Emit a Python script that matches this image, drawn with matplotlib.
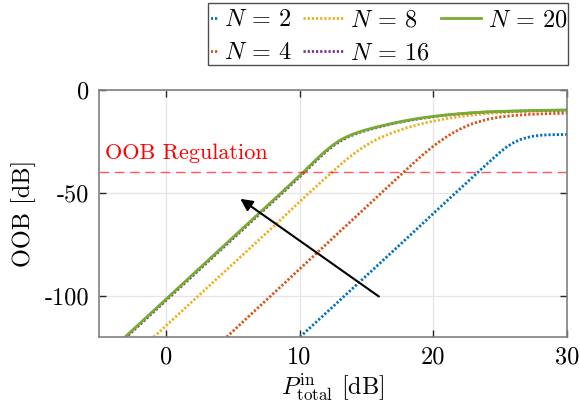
import matplotlib
matplotlib.use("Agg")
from matplotlib import pyplot as plt
from matplotlib.patches import Rectangle
from matplotlib.transforms import Bbox, TransformedBbox

plt.rcParams['font.family'] = ['cmr10', 'DejaVu Serif']
plt.rcParams['mathtext.fontset'] = 'cm'
plt.rcParams['axes.unicode_minus'] = False
plt.rcParams['axes.formatter.use_mathtext'] = True

# OOB emission [dB] against total input power [dB], one series per N
x_n2 = [10.03, 12, 14, 16, 18, 20, 22, 23, 24, 24.5, 25, 25.5, 26, 26.5, 27, 27.5, 28, 28.5, 29, 30]
oob_n2 = [-120, -108.2, -96.2, -84.2, -72.2, -60.0, -48.0, -42.0, -36.0, -33.1, -30.2, -27.6,
          -25.6, -24.1, -23.1, -22.4, -22.0, -21.8, -21.7, -21.6]

x_n4 = [4.55, 6, 8, 10, 12, 14, 16, 17, 18, 19, 19.5, 20, 20.5, 21, 21.5, 22, 22.5, 23, 24, 25,
        26, 27, 28, 29, 30]
oob_n4 = [-120, -111.2, -99.1, -87.0, -74.9, -62.8, -50.7, -44.6, -38.6, -32.7, -29.9, -27.3,
          -24.9, -22.7, -20.7, -19.0, -17.5, -16.2, -14.3, -13.1, -12.4, -11.9, -11.6, -11.4, -11.3]

x_n8 = [-0.9, 0, 2, 4, 6, 8, 10, 11, 12, 12.5, 13, 13.5, 14, 14.5, 15, 15.5, 16, 17, 18, 19, 20,
        21, 22, 23, 24, 26, 28, 30]
oob_n8 = [-120, -114.6, -102.6, -90.6, -78.6, -66.6, -54.3, -48.3, -42.4, -39.5, -36.6, -33.8,
          -31.2, -28.9, -26.8, -24.9, -23.3, -20.6, -18.4, -16.6, -15.1, -13.9, -12.9, -12.1,
          -11.5, -10.6, -10.1, -9.9]

x_n16 = [-3.05, -2, 0, 2, 4, 6, 8, 9, 10, 10.5, 11, 11.5, 12, 12.5, 13, 13.5, 14, 14.5, 15, 15.5,
         16, 17, 18, 19, 20, 21, 22, 23, 24, 26, 28, 30]
oob_n16 = [-120.6, -114.3, -102.3, -90.3, -78.3, -66.3, -54.3, -48.3, -42.2, -39.1, -35.9, -32.8,
           -29.8, -27.2, -25.0, -23.2, -21.8, -20.6, -19.6, -18.7, -17.9, -16.3, -15.0, -13.9,
           -13.0, -12.2, -11.6, -11.1, -10.7, -10.3, -10.0, -9.8]

x_n20 = x_n16
oob_n20 = [-120, -113.7, -101.7, -89.7, -77.7, -65.7, -53.7, -47.7, -41.6, -38.5, -35.3, -32.2,
           -29.3, -26.7, -24.5, -22.8, -21.4, -20.3, -19.3, -18.4, -17.6, -16.1, -14.8, -13.7,
           -12.8, -12.1, -11.5, -11.0, -10.6, -10.2, -9.9, -9.7]

oob_limit = -40
x_ticks = [0, 10, 20, 30]
y_ticks = [-100, -50, 0]
y_tick_labels = ['-100', '-50', '0']

FS = 17.5
dots = (0, (0.8, 0.7))

fig = plt.figure(figsize=(5.8, 4.08), dpi=100)
ax = fig.add_axes([0.1707, 0.1740, 0.8069, 0.6054])

ax.plot(x_n2, oob_n2, color='#0072BD', lw=2, ls=dots, label=r'$N\,=\,2$')
ax.plot(x_n4, oob_n4, color='#D95319', lw=2, ls=dots, label=r'$N\,=\,4$')
ax.plot(x_n8, oob_n8, color='#EDB120', lw=2, ls=dots, label=r'$N\,=\,8$')
ax.plot(x_n16, oob_n16, color='#7E2F8E', lw=2, ls=dots, label=r'$N\,=\,16$')
ax.plot(x_n20, oob_n20, color='#77AC30', lw=2, label=r'$N\,=\,20$')

ax.axhline(oob_limit, color='red', alpha=0.65, lw=1, dashes=(7, 4))
ax.text(-4.55, -33.5, 'OOB Regulation', color='red', fontsize=16, va='baseline')

ax.annotate('', xy=(5.4, -52.1), xytext=(16.1, -101.1),
            arrowprops=dict(arrowstyle='-|>', color='k', lw=1.5, mutation_scale=18))

ax.set_xlim(-5, 30)
ax.set_ylim(-120, 0)
ax.set_xticks(x_ticks)
ax.set_xticklabels([str(t) for t in x_ticks])
ax.set_yticks(y_ticks)
ax.set_yticklabels(y_tick_labels)
ax.grid(True, color='#e4e4e4', lw=0.9)
ax.set_axisbelow(True)
ax.tick_params(direction='in', length=5, width=1, color='0.15', top=True, right=True,
               labelsize=FS, pad=7)
for sp in ax.spines.values():
    sp.set_color('0.5')
    sp.set_linewidth(1.2)

ax.set_xlabel(r'$P_{\mathrm{total}}^{\mathrm{in}}$ [dB]', fontsize=FS, labelpad=2)
ax.set_ylabel('OOB [dB]', fontsize=FS, labelpad=6)

# legend box sits at the top right; the first column's samples are cut by its left edge
box_x0, box_x1 = 208 / 580, 568 / 580
box_y0, box_y1 = 1 - 65 / 408, 1 - 3 / 408
fig.patches.append(Rectangle((box_x0, box_y0), box_x1 - box_x0, box_y1 - box_y0,
                             transform=fig.transFigure, fill=True, facecolor='white',
                             edgecolor='0.3', lw=1, zorder=1))

leg = fig.legend(loc='upper left', bbox_to_anchor=(177 / 580, 1 - 9 / 408), ncol=3,
                 fontsize=FS, frameon=False, handlelength=1.65, handletextpad=0.3,
                 columnspacing=0.45, labelspacing=0.45, borderpad=0, borderaxespad=0)
leg.set_zorder(2)
clip = TransformedBbox(Bbox([[box_x0 + 3 / 580, 0], [1, 1]]), fig.transFigure)
for h in leg.legend_handles:
    h.set_clip_box(clip)
    h.set_clip_on(True)

fig.savefig('out.png', dpi=100)
